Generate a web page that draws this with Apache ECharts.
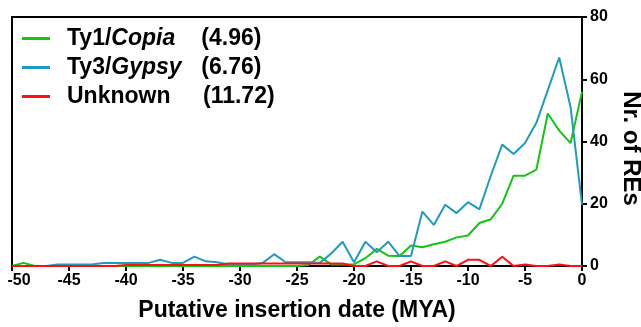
<!DOCTYPE html>
<html>
<head>
<meta charset="utf-8">
<script src="https://cdn.jsdelivr.net/npm/echarts@6/dist/echarts.min.js"></script>
<style>
  html, body { margin: 0; padding: 0; background: #fff; }
  #chart { width: 641px; height: 327px; }
</style>
</head>
<body>
<div id="chart"></div>
<script>
// Insertion dates in million years ago, one bin per MYA
const years = [-50, -49, -48, -47, -46, -45, -44, -43, -42, -41,
               -40, -39, -38, -37, -36, -35, -34, -33, -32, -31,
               -30, -29, -28, -27, -26, -25, -24, -23, -22, -21,
               -20, -19, -18, -17, -16, -15, -14, -13, -12, -11,
               -10, -9, -8, -7, -6, -5, -4, -3, -2, -1, 0];

const copia = [0, 1, 0, 0, 0, 0, 0, 0, 0, 0,
               0, 0, 0, 0, 0, 0, 0, 0, 0, 0,
               0, 0, 0, 0, 0, 0, 0.3, 3, 0.5, 0.5,
               0.5, 2.5, 5.5, 3.3, 3.2, 6.6, 6, 7, 7.8, 9.2,
               9.8, 13.8, 15, 20, 29, 29, 31, 49, 43.5, 39.5, 56];

const gypsy = [0, 0, 0, 0, 0.5, 0.5, 0.5, 0.5, 1, 1,
               1, 1, 1, 2, 1, 1, 3, 1.5, 1.2, 0.5,
               0.5, 0.5, 1, 3.8, 1.2, 1.2, 1.2, 1, 4, 7.8,
               1.2, 7.8, 4.4, 7.8, 3.2, 3.2, 17.5, 13.2, 19.7, 17,
               20.5, 18.2, 29, 39, 36, 39.5, 46, 56.5, 67, 51, 19.7];

const unknown = [0, 0, 0, 0, 0, 0, 0, 0, 0, 0,
                 0.3, 0.3, 0.3, 0.3, 0.3, 0.3, 0.3, 0.3, 0.3, 0.8,
                 0.8, 0.8, 0.8, 0.8, 0.8, 0.8, 0.8, 0.8, 0.8, 0.8,
                 0, 0, 1.5, 0, 0, 1.5, 0, 0, 1.5, 0,
                 2, 2, 0, 3, 0, 0.5, 0, 0, 0.5, 0, 0];

// Legend entries: plain prefix, italic family name, mean age
const seriesNames = ['Ty1/Copia', 'Ty3/Gypsy', 'Unknown'];
const prefixes = ['Ty1/', 'Ty3/', 'Unknown'];
const families = ['Copia', 'Gypsy', ''];
const meanAges = ['4.96', '6.76', '11.72'];
const colors = ['#13c613', '#1f9bc2', '#ff1010'];

const xTicks = { min: -50, max: 0, step: 5 };
const yTicks = { min: 0, max: 80, step: 20 };

const FONT = '"Liberation Sans", Arial, sans-serif';

function pairs(values) {
  return years.map((y, i) => [y, values[i]]);
}

const seriesValues = [copia, gypsy, unknown];

const chart = echarts.init(document.getElementById('chart'), null, { renderer: 'canvas' });

chart.setOption({
  animation: false,
  backgroundColor: '#fff',
  grid: {
    left: 12, right: 59, top: 17, bottom: 61,
    outerBoundsMode: 'none',
    containLabel: false,
    show: true, borderColor: '#000', borderWidth: 2, backgroundColor: 'transparent'
  },
  legend: {
    left: 22, top: 27, orient: 'vertical',
    padding: 0, itemGap: 6,
    itemWidth: 28, itemHeight: 3,
    icon: 'rect',
    data: seriesNames,
    formatter: function (name) {
      const i = seriesNames.indexOf(name);
      if (families[i]) {
        return '{n|' + prefixes[i] + '}{i|' + families[i] + '}{v|(' + meanAges[i] + ')}';
      }
      return '{u|' + prefixes[i] + '}{v|(' + meanAges[i] + ')}';
    },
    textStyle: {
      fontFamily: FONT, fontWeight: 'bold', fontSize: 23, color: '#000',
      rich: {
        n: { fontFamily: FONT, fontWeight: 'bold', fontSize: 23, lineHeight: 26, padding: [0, 0, 0, 12] },
        i: { fontFamily: FONT, fontWeight: 'bold', fontStyle: 'italic', fontSize: 23, lineHeight: 26, width: 90 },
        u: { fontFamily: FONT, fontWeight: 'bold', fontSize: 23, lineHeight: 26, padding: [0, 0, 0, 12], width: 136 },
        v: { fontFamily: FONT, fontWeight: 'bold', fontSize: 23, lineHeight: 26 }
      }
    }
  },
  xAxis: {
    type: 'value',
    min: xTicks.min, max: xTicks.max, interval: xTicks.step,
    name: 'Putative insertion date (MYA)',
    nameLocation: 'middle', nameGap: 33,
    nameTextStyle: { fontFamily: FONT, fontWeight: 'bold', fontSize: 23, color: '#000' },
    axisLine: { onZero: false, lineStyle: { color: '#000', width: 2 } },
    axisTick: { inside: false, length: 5, lineStyle: { color: '#000', width: 2 } },
    axisLabel: {
      margin: 7, fontFamily: FONT, fontWeight: 'bold', fontSize: 16, color: '#000',
      formatter: function (v) { return v === xTicks.min ? '{first|' + v + '}' : String(v); },
      rich: {
        first: { fontFamily: FONT, fontWeight: 'bold', fontSize: 16, color: '#000', padding: [0, 0, 0, 14] }
      }
    },
    splitLine: { show: false }
  },
  yAxis: {
    type: 'value', position: 'right',
    min: yTicks.min, max: yTicks.max, interval: yTicks.step,
    name: 'Nr. of REs',
    nameLocation: 'middle', nameGap: 33, nameRotate: -90,
    nameTextStyle: { fontFamily: FONT, fontWeight: 'bold', fontSize: 24, color: '#000', padding: [0, 0, 0, 14] },
    axisLine: { show: true, onZero: false, lineStyle: { color: '#000', width: 2 } },
    axisTick: { show: true, inside: false, length: 5, lineStyle: { color: '#000', width: 2 } },
    axisLabel: { margin: 8, fontFamily: FONT, fontWeight: 'bold', fontSize: 16, color: '#000' },
    splitLine: { show: false }
  },
  series: seriesNames.map((name, i) => ({
    name: name,
    type: 'line',
    data: pairs(seriesValues[i]),
    showSymbol: false,
    symbol: 'none',
    color: colors[i],
    lineStyle: { color: colors[i], width: 2 },
    z: 2 + i
  }))
});
</script>
</body>
</html>
